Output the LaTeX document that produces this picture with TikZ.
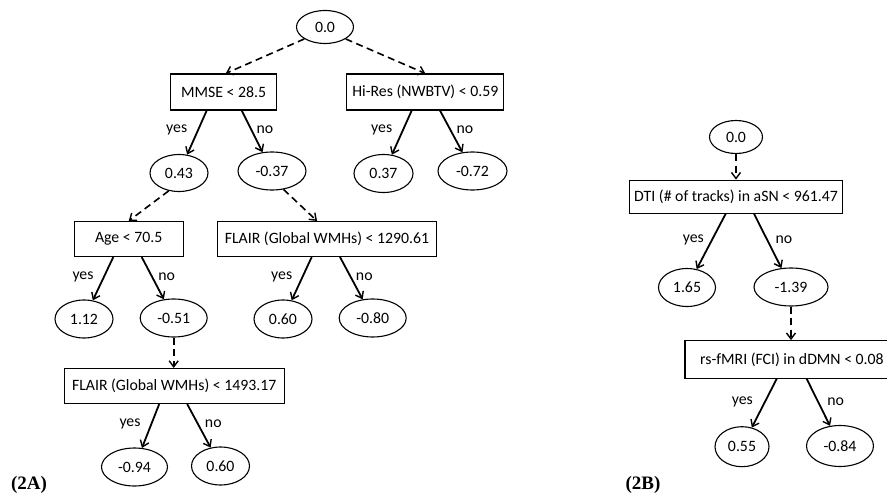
\documentclass[tikz,border=0pt]{standalone}
\usepackage{fontspec}
\setmainfont{Carlito}
\newfontfamily\labfont{Liberation Serif}
\usetikzlibrary{arrows.meta,shapes.geometric}
\tikzset{
  every node/.style={font=\fontsize{15.8}{18}\selectfont},
  cond/.style={draw, line width=1.1pt, rectangle, inner sep=1pt, minimum height=35pt},
  leaf/.style={draw, line width=1.1pt, ellipse, inner sep=0pt},
  sol/.style={line width=1.8pt, -{Straight Barb[length=6pt,width=9pt,line width=1.4pt]}},
  dsh/.style={line width=1.6pt, dash pattern=on 7pt off 4.5pt, -{Straight Barb[length=6pt,width=9pt,line width=1.4pt]}},
  lab/.style={inner sep=0pt},
  panel/.style={inner sep=0pt, font=\labfont\bfseries\fontsize{19}{22}\selectfont}
}
\begin{document}
\begin{tikzpicture}[x=1pt,y=-1pt]
\useasboundingbox (0,0) rectangle (887,500);
\clip (0,0) rectangle (887,500);
\fill[white] (0,0) rectangle (887,500);
% ---- Panel 2A ----
\node[leaf, minimum width=57pt, minimum height=33pt] (root) at (325,27) {0.0};
\node[cond, minimum width=106pt, minimum height=36pt] (mmse) at (223.7,92) {MMSE < 28.5};
\node[cond, minimum width=157pt, minimum height=36pt] (hires) at (425.3,92) {Hi-Res (NWBTV) < 0.59};
\node[leaf, minimum width=58pt, minimum height=37pt] (a043) at (179,173) {0.43};
\node[leaf, minimum width=68pt, minimum height=38pt] (a037n) at (272,171) {-0.37};
\node[leaf, minimum width=59pt, minimum height=38pt] (a037) at (383.5,173.5) {0.37};
\node[leaf, minimum width=69pt, minimum height=38pt] (a072n) at (472.5,171) {-0.72};
\node[cond, minimum width=109pt] (age) at (128.7,239) {Age < 70.5};
\node[cond, minimum width=219pt] (flairA) at (327,239) {FLAIR (Global WMHs) < 1290.61};
\node[leaf, minimum width=58pt, minimum height=38pt] (a112) at (84,319) {1.12};
\node[leaf, minimum width=67pt, minimum height=38pt] (a051n) at (173.7,318) {-0.51};
\node[leaf, minimum width=58pt, minimum height=38pt] (a060) at (283,319) {0.60};
\node[leaf, minimum width=67pt, minimum height=38pt] (a080n) at (372.7,318) {-0.80};
\node[cond, minimum width=220pt] (flairB) at (174.2,386) {FLAIR (Global WMHs) < 1493.17};
\node[leaf, minimum width=66pt, minimum height=38pt] (a094n) at (134.5,467) {-0.94};
\node[leaf, minimum width=58pt, minimum height=38pt] (a060b) at (220.5,466) {0.60};
\node[panel] (pA) at (29,485) {(2A)};

\draw[dsh] (root.-150) -- ([xshift=2pt]mmse.north);
\draw[dsh] (root.-30) -- (hires.north);
\draw[sol] ([xshift=-17pt]mmse.south) -- (a043);
\draw[sol] ([xshift=18pt]mmse.south) -- (a037n);
\draw[sol] ([xshift=-13.6pt]hires.south) -- (a037);
\draw[sol] ([xshift=14.7pt]hires.south) -- (a072n);
\draw[dsh] (a043.-120) -- (age.north);
\draw[dsh] (a037n.-58) -- ([xshift=-10pt]flairA.north);
\draw[sol] ([xshift=-15.4pt]age.south) -- (a112);
\draw[sol] ([xshift=13pt]age.south) -- (a051n);
\draw[sol] ([xshift=-15.3pt]flairA.south) -- (a060);
\draw[sol] ([xshift=13pt]flairA.south) -- (a080n);
\draw[dsh] (a051n) -- (a051n |- flairB.north);
\draw[sol] ([xshift=-15pt]flairB.south) -- (a094n);
\draw[sol] ([xshift=13pt]flairB.south) -- (a060b);

\node[lab] (y1) at (176.7,130) {yes};
\node[lab] (n1) at (265,130) {no};
\node[lab] (y2) at (381.7,130) {yes};
\node[lab] (n2) at (465,130) {no};
\node[lab] (y3) at (83,277) {yes};
\node[lab] (n3) at (166.7,277) {no};
\node[lab] (y4) at (281.7,277) {yes};
\node[lab] (n4) at (364.3,277) {no};
\node[lab] (y5) at (130,424) {yes};
\node[lab] (n5) at (213.3,424) {no};

% ---- Panel 2B ----
\node[leaf, minimum width=53pt, minimum height=33pt] (broot) at (736,137) {0.0};
\node[cond, inner sep=1pt, minimum width=213pt, minimum height=33pt] (dti) at (736,196.7) {DTI (\# of tracks) in aSN < 961.47};
\node[leaf, minimum width=57pt, minimum height=38pt] (b165) at (687,287.5) {1.65};
\node[leaf, minimum width=74pt, minimum height=38pt] (b139n) at (791,287) {-1.39};
\node[cond, minimum width=214pt, minimum height=37.6pt] (rs) at (792,359.5) {rs-fMRI (FCI) in dDMN < 0.08};
\node[leaf, minimum width=54pt, minimum height=40pt] (b055) at (742,446.7) {0.55};
\node[leaf, minimum width=67pt, minimum height=41pt] (b084n) at (840,446) {-0.84};
\node[panel] (pB) at (643,485) {(2B)};

\draw[dsh] (broot) -- (broot |- dti.north);
\draw[sol] ([xshift=-10.3pt]dti.south) -- (b165);
\draw[sol] ([xshift=18pt]dti.south) -- (b139n);
\draw[dsh] (b139n) -- (b139n |- rs.north);
\draw[sol] ([xshift=-15.3pt]rs.south) -- (b055);
\draw[sol] ([xshift=14.7pt]rs.south) -- (b084n);

\node[lab] (y6) at (693.3,240) {yes};
\node[lab] (n6) at (784,240) {no};
\node[lab] (y7) at (742.3,401.7) {yes};
\node[lab] (n7) at (835.7,401.7) {no};
\end{tikzpicture}
\end{document}
